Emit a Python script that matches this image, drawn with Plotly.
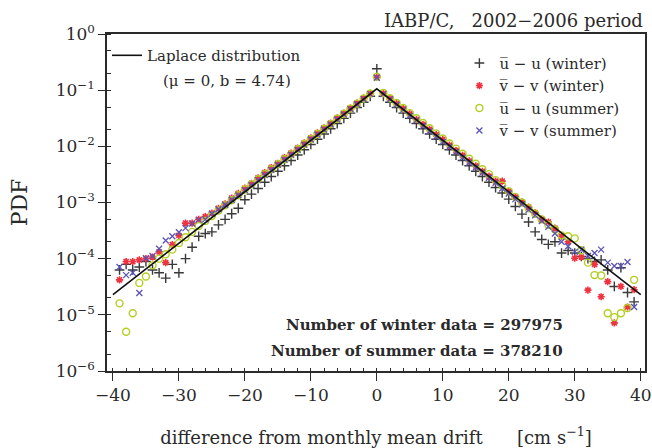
import plotly.graph_objects as go

# ---------------- data ----------------
drift_diff = list(range(-39, 40))  # cm s-1

winter_u = [6.3e-5, 7.9e-5, 6.3e-5, 7.1e-5, 8.9e-5, 6.3e-5, 5.6e-5, 4.5e-5, 7.9e-5, 5.6e-5,
            1.0e-4, 1.6e-4, 2.5e-4, 2.8e-4, 3.0e-4, 4.0e-4, 5.0e-4, 6.3e-4, 7.9e-4, 1.12e-3,
            1.41e-3, 1.78e-3, 2.3e-3, 2.9e-3, 3.6e-3, 4.5e-3, 5.6e-3, 7.0e-3, 8.7e-3, 1.08e-2,
            1.34e-2, 1.66e-2, 2.05e-2, 2.55e-2, 3.15e-2, 3.9e-2, 4.9e-2, 6.1e-2, 7.8e-2,
            0.24,
            7.8e-2, 6.1e-2, 4.9e-2, 3.9e-2, 3.15e-2, 2.55e-2, 2.05e-2, 1.66e-2, 1.34e-2, 1.08e-2,
            8.7e-3, 7.0e-3, 5.6e-3, 4.5e-3, 3.6e-3, 2.9e-3, 2.3e-3, 1.85e-3, 1.48e-3, 1.15e-3,
            8.5e-4, 6.2e-4, 4.5e-4, 3.0e-4, 2.2e-4, 1.8e-4, 2.0e-4, 1.26e-4, 1.4e-4, 1.26e-4,
            1.1e-4, 1.0e-4, 8.9e-5, 9.5e-5, 6.3e-5, 3.2e-5, 6.9e-5, 2.5e-5, 1.7e-5]

winter_v = [4.2e-5, 8.9e-5, 8.9e-5, 9.5e-5, 1.0e-4, 1.07e-4, 1.32e-4, 8.5e-5, 1.78e-4, 2.6e-4,
            4.3e-4, 4.3e-4, 5.0e-4, 5.6e-4, 6.5e-4, 7.9e-4, 9.5e-4, 1.2e-3, 1.45e-3, 1.8e-3,
            2.2e-3, 2.75e-3, 3.4e-3, 4.2e-3, 5.0e-3, 6.3e-3, 7.6e-3, 9.3e-3, 1.15e-2, 1.41e-2,
            1.74e-2, 2.14e-2, 2.6e-2, 3.2e-2, 3.9e-2, 4.8e-2, 5.9e-2, 7.2e-2, 8.7e-2,
            0.17,
            8.7e-2, 7.1e-2, 5.75e-2, 4.7e-2, 3.8e-2, 3.0e-2, 2.45e-2, 2.0e-2, 1.62e-2, 1.32e-2,
            1.05e-2, 8.5e-3, 6.9e-3, 5.5e-3, 4.5e-3, 3.6e-3, 2.95e-3, 2.4e-3, 2.4e-3, 1.58e-3,
            1.26e-3, 1.02e-3, 8.3e-4, 6.6e-4, 5.0e-4, 4.5e-4, 3.5e-4, 2.5e-4, 2.0e-4, 1.02e-4,
            1.07e-4, 2.75e-5, 7.9e-5, 2.1e-5, 3.9e-5, 7.2e-6, 3.2e-5, 1.38e-5, 2.8e-5]

summer_u = [1.6e-5, 5.0e-6, 1.07e-5, 3.7e-5, 4.8e-5, 7.6e-5, 1.0e-4, 1.2e-4, 1.45e-4, 1.9e-4,
            2.4e-4, 3.0e-4, 3.8e-4, 4.7e-4, 5.75e-4, 7.2e-4, 8.9e-4, 1.1e-3, 1.35e-3, 1.7e-3,
            2.1e-3, 2.6e-3, 3.2e-3, 3.9e-3, 4.8e-3, 5.9e-3, 7.2e-3, 8.9e-3, 1.1e-2, 1.35e-2,
            1.66e-2, 2.04e-2, 2.5e-2, 3.1e-2, 3.8e-2, 4.7e-2, 5.75e-2, 7.1e-2, 8.7e-2,
            0.174,
            8.9e-2, 7.2e-2, 5.9e-2, 4.8e-2, 3.9e-2, 3.16e-2, 2.6e-2, 2.1e-2, 1.7e-2, 1.38e-2,
            1.12e-2, 9.1e-3, 7.4e-3, 6.0e-3, 4.9e-3, 3.9e-3, 3.2e-3, 2.5e-3, 2.0e-3, 1.58e-3,
            1.26e-3, 1.0e-3, 7.9e-4, 6.3e-4, 5.0e-4, 4.0e-4, 3.3e-4, 2.6e-4, 2.5e-4, 2.3e-4,
            1.41e-4, 8.5e-5, 5.1e-5, 5.0e-5, 1.07e-5, 9.1e-6, 1.07e-5, 1.32e-5, 4.2e-5]

summer_v = [7.1e-5, 5.1e-5, 5.6e-5, 2.45e-5, 1.02e-4, 1.12e-4, 1.5e-4, 2.1e-4, 2.5e-4, 2.95e-4,
            3.5e-4, 4.2e-4, 4.9e-4, 5.0e-4, 6.3e-4, 7.6e-4, 9.1e-4, 1.12e-3, 1.35e-3, 1.66e-3,
            2.04e-3, 2.5e-3, 3.1e-3, 3.8e-3, 4.7e-3, 5.75e-3, 7.1e-3, 8.7e-3, 1.07e-2, 1.32e-2,
            1.62e-2, 2.0e-2, 2.45e-2, 3.0e-2, 3.7e-2, 4.6e-2, 5.6e-2, 6.9e-2, 8.5e-2,
            0.166,
            8.5e-2, 6.9e-2, 5.5e-2, 4.5e-2, 3.5e-2, 2.9e-2, 2.3e-2, 1.86e-2, 1.48e-2, 1.2e-2,
            9.8e-3, 7.9e-3, 6.3e-3, 5.1e-3, 4.2e-3, 3.4e-3, 2.75e-3, 2.24e-3, 1.78e-3, 1.45e-3,
            1.15e-3, 9.3e-4, 7.4e-4, 5.9e-4, 4.7e-4, 3.7e-4, 2.8e-4, 2.0e-4, 1.66e-4, 1.32e-4,
            1.45e-4, 1.12e-4, 1.26e-4, 1.45e-4, 8.5e-5, 7.4e-5, 7.4e-5, 8.7e-5, 1.38e-5]

# Laplace distribution (mu = 0, b = 4.74): straight on a log axis
laplace_x = [-40, 0, 40]
laplace_pdf = [2.28e-5, 0.1055, 2.28e-5]

series_names = ["u\u0305 \u2212 u (winter)", "v\u0305 \u2212 v (winter)",
                "u\u0305 \u2212 u (summer)", "v\u0305 \u2212 v (summer)"]
x_ticks = [-40, -30, -20, -10, 0, 10, 20, 30, 40]
y_ticks = [1e-6, 1e-5, 1e-4, 1e-3, 1e-2, 1e-1, 1e0]
y_ticktext = ["10<sup>\u22126</sup>", "10<sup>\u22125</sup>", "10<sup>\u22124</sup>",
              "10<sup>\u22123</sup>", "10<sup>\u22122</sup>", "10<sup>\u22121</sup>",
              "10<sup>0</sup>"]
x_ticktext = ["\u221240", "\u221230", "\u221220", "\u221210", "0", "10", "20", "30", "40"]

# ---------------- figure ----------------
FONT = "DejaVu Serif"
INK = "#2a2a2a"

fig = go.Figure()

styles = [
    dict(symbol="cross-thin", size=7, color="#3a3a3a", line=dict(width=1.4, color="#3a3a3a")),
    dict(symbol="asterisk", size=6, color="#ee3340", line=dict(width=1.6, color="#ee3340")),
    dict(symbol="circle-open", size=7, color="#b2cf22", line=dict(width=1.4, color="#b2cf22")),
    dict(symbol="x-thin", size=6, color="#5a55b5", line=dict(width=1.3, color="#5a55b5")),
]
for name, vals, st in zip(series_names, [winter_u, winter_v, summer_u, summer_v], styles):
    fig.add_trace(go.Scatter(x=drift_diff, y=vals, mode="markers", name=name,
                             marker=st, legend="legend2", showlegend=True))

fig.add_trace(go.Scatter(x=laplace_x, y=laplace_pdf, mode="lines",
                         name="Laplace distribution", showlegend=True,
                         line=dict(color="#111111", width=1.6), legend="legend"))

fig.update_layout(
    width=652, height=448,
    showlegend=True,
    margin=dict(l=107, r=7, t=34, b=77, autoexpand=False),
    paper_bgcolor="white", plot_bgcolor="white",
    font=dict(family=FONT, color=INK, size=15),
    legend=dict(x=0.0, y=0.985, xanchor="left", yanchor="top",
                font=dict(family=FONT, size=15, color=INK),
                bgcolor="rgba(0,0,0,0)", itemwidth=30, tracegroupgap=0),
    legend2=dict(x=0.655, y=0.962, xanchor="left", yanchor="top",
                 font=dict(family=FONT, size=15, color=INK),
                 bgcolor="rgba(0,0,0,0)", itemwidth=30, tracegroupgap=0),
    xaxis=dict(range=[-40.9, 40.65], tickvals=x_ticks, ticktext=x_ticktext,
               automargin=False,
               ticks="outside", ticklen=8, tickwidth=1.3, tickcolor=INK,
               showline=True, linecolor=INK, linewidth=1.5, mirror=True,
               showgrid=False, zeroline=False,
               tickfont=dict(family=FONT, size=17, color=INK),
               minor=dict(dtick=2, ticks="inside", ticklen=3, tickcolor=INK, showgrid=False),
               title=dict(text="difference from monthly mean drift\u00a0\u00a0\u00a0\u00a0\u00a0\u00a0[cm s<sup>\u22121</sup>]",
                          font=dict(family=FONT, size=18, color=INK), standoff=27)),
    yaxis=dict(type="log", range=[-6, 0], tickvals=y_ticks, ticktext=y_ticktext,
               automargin=False,
               ticks="outside", ticklen=7, tickwidth=1.3, tickcolor=INK,
               showline=True, linecolor=INK, linewidth=1.5, mirror=True,
               showgrid=False, zeroline=False,
               tickfont=dict(family=FONT, size=17, color=INK),
               minor=dict(ticks="inside", ticklen=4, tickcolor=INK, showgrid=False),
               title=dict(text="PDF", font=dict(family=FONT, size=22, color=INK), standoff=22)),
)

fig.add_annotation(xref="paper", yref="paper", x=1.0, y=1.0, yshift=14,
                   xanchor="right", yanchor="middle", showarrow=False,
                   text="IABP/C,\u00a0\u00a0\u00a02002\u22122006 period",
                   font=dict(family=FONT, size=18, color=INK))
fig.add_annotation(xref="paper", yref="paper", x=0.223, y=0.861,
                   xanchor="center", yanchor="middle", showarrow=False,
                   text="(\u03bc = 0, b = 4.74)",
                   font=dict(family=FONT, size=15, color=INK))
fig.add_annotation(xref="paper", yref="paper", x=0.851, y=0.137,
                   xanchor="right", yanchor="middle", showarrow=False,
                   text="<b>Number of winter data = 297975</b>",
                   font=dict(family=FONT, size=15, color=INK))
fig.add_annotation(xref="paper", yref="paper", x=0.851, y=0.058,
                   xanchor="right", yanchor="middle", showarrow=False,
                   text="<b>Number of summer data = 378210</b>",
                   font=dict(family=FONT, size=15, color=INK))

fig.write_html("out.html")
